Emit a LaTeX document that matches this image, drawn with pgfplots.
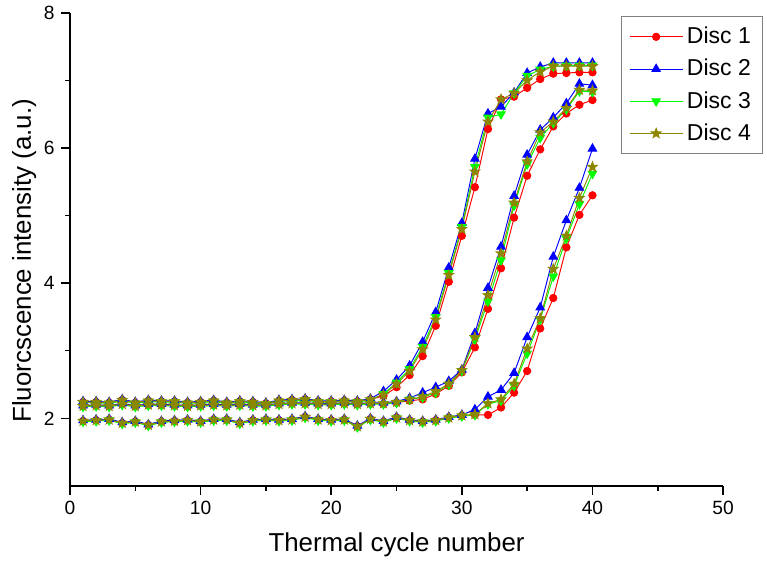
\documentclass[border=0pt]{standalone}
\usepackage{fontspec}
\setmainfont{Liberation Sans}
\usepackage{pgfplots}
\pgfplotsset{compat=1.18}
\usepackage{pgfplotstable}
\usetikzlibrary{plotmarks}

% filled five-point star
\pgfdeclareplotmark{fstar}{%
  \pgfpathmoveto{\pgfpointpolar{90}{\pgfplotmarksize}}%
  \pgfpathlineto{\pgfpointpolar{126}{0.42\pgfplotmarksize}}%
  \pgfpathlineto{\pgfpointpolar{162}{\pgfplotmarksize}}%
  \pgfpathlineto{\pgfpointpolar{198}{0.42\pgfplotmarksize}}%
  \pgfpathlineto{\pgfpointpolar{234}{\pgfplotmarksize}}%
  \pgfpathlineto{\pgfpointpolar{270}{0.42\pgfplotmarksize}}%
  \pgfpathlineto{\pgfpointpolar{306}{\pgfplotmarksize}}%
  \pgfpathlineto{\pgfpointpolar{342}{0.42\pgfplotmarksize}}%
  \pgfpathlineto{\pgfpointpolar{18}{\pgfplotmarksize}}%
  \pgfpathlineto{\pgfpointpolar{54}{0.42\pgfplotmarksize}}%
  \pgfpathclose
  \pgfusepathqfillstroke
}

% columns: cycle, then early / middle / late curve for each disc
\pgfplotstableread{
c  ae   am   al   be   bm   bl   ce   cm   cl   de   dm   dl
1  2.24 2.18 1.96 2.25 2.19 1.97 2.23 2.17 1.95 2.24 2.18 1.96
2  2.24 2.19 1.97 2.25 2.20 1.98 2.23 2.18 1.96 2.24 2.19 1.97
3  2.23 2.18 1.98 2.24 2.19 1.99 2.22 2.17 1.97 2.23 2.18 1.98
4  2.27 2.21 1.93 2.28 2.22 1.94 2.26 2.20 1.92 2.27 2.21 1.93
5  2.23 2.18 1.95 2.24 2.19 1.96 2.22 2.17 1.94 2.23 2.18 1.95
6  2.26 2.20 1.90 2.27 2.21 1.91 2.25 2.19 1.89 2.26 2.20 1.90
7  2.25 2.20 1.95 2.26 2.21 1.96 2.24 2.19 1.94 2.25 2.20 1.95
8  2.25 2.19 1.96 2.26 2.20 1.97 2.24 2.18 1.95 2.25 2.19 1.96
9  2.23 2.18 1.97 2.24 2.19 1.98 2.22 2.17 1.96 2.23 2.18 1.97
10 2.24 2.19 1.95 2.25 2.20 1.96 2.23 2.18 1.94 2.24 2.19 1.95
11 2.26 2.20 1.98 2.27 2.21 1.99 2.25 2.19 1.97 2.26 2.20 1.98
12 2.23 2.19 1.98 2.24 2.20 1.99 2.22 2.18 1.97 2.23 2.19 1.98
13 2.25 2.20 1.93 2.26 2.21 1.94 2.24 2.19 1.92 2.25 2.20 1.93
14 2.24 2.19 1.97 2.25 2.20 1.98 2.23 2.18 1.96 2.24 2.19 1.97
15 2.22 2.19 1.98 2.23 2.20 1.99 2.21 2.18 1.97 2.22 2.19 1.98
16 2.26 2.21 1.97 2.27 2.22 1.98 2.25 2.20 1.96 2.26 2.21 1.97
17 2.27 2.22 1.98 2.28 2.23 1.99 2.26 2.21 1.97 2.27 2.22 1.98
18 2.28 2.22 2.02 2.29 2.23 2.03 2.27 2.21 2.01 2.28 2.22 2.02
19 2.25 2.21 1.98 2.26 2.22 1.99 2.24 2.20 1.97 2.25 2.21 1.98
20 2.25 2.21 1.97 2.26 2.22 1.98 2.24 2.20 1.96 2.25 2.21 1.97
21 2.26 2.22 1.98 2.27 2.23 1.99 2.25 2.21 1.97 2.26 2.22 1.98
22 2.25 2.21 1.88 2.26 2.22 1.89 2.24 2.20 1.87 2.25 2.21 1.88
23 2.28 2.22 1.99 2.29 2.23 2.00 2.27 2.21 1.98 2.28 2.22 1.99
24 2.33 2.21 1.95 2.40 2.23 1.96 2.36 2.21 1.94 2.35 2.22 1.95
25 2.46 2.23 2.01 2.57 2.25 2.02 2.53 2.23 2.00 2.51 2.24 2.01
26 2.64 2.26 1.97 2.78 2.30 1.98 2.73 2.28 1.96 2.70 2.28 1.97
27 2.92 2.28 1.95 3.13 2.38 1.96 3.06 2.31 1.94 3.02 2.32 1.95
28 3.37 2.36 1.97 3.57 2.46 1.98 3.50 2.38 1.96 3.46 2.40 1.97
29 4.02 2.48 2.01 4.23 2.55 2.02 4.15 2.50 2.00 4.12 2.51 2.01
30 4.70 2.68 2.04 4.89 2.72 2.05 4.83 2.70 2.03 4.80 2.71 2.04
31 5.42 3.05 2.05 5.84 3.26 2.13 5.72 3.17 2.05 5.65 3.20 2.06
32 6.28 3.62 2.05 6.51 3.93 2.32 6.45 3.73 2.21 6.39 3.82 2.22
33 6.72 4.22 2.16 6.61 4.54 2.42 6.50 4.34 2.26 6.72 4.44 2.28
34 6.76 4.97 2.38 6.82 5.29 2.67 6.81 5.15 2.48 6.81 5.19 2.51
35 6.89 5.59 2.70 7.11 5.90 3.20 7.07 5.76 2.96 7.00 5.80 3.03
36 7.02 5.98 3.33 7.20 6.27 3.64 7.16 6.15 3.46 7.13 6.23 3.48
37 7.10 6.32 3.78 7.26 6.45 4.39 7.21 6.37 4.10 7.21 6.39 4.21
38 7.11 6.51 4.53 7.26 6.66 4.93 7.22 6.57 4.66 7.21 6.59 4.70
39 7.12 6.64 5.01 7.26 6.95 5.41 7.22 6.84 5.17 7.21 6.86 5.26
40 7.12 6.71 5.30 7.26 6.93 5.99 7.22 6.83 5.62 7.21 6.85 5.72
}\qpcr

\begin{document}
\begin{tikzpicture}
\useasboundingbox (0,0) rectangle (400pt,296.2pt);
\begin{axis}[
    at={(36.5pt,42.8pt)}, anchor=south west,
    scale only axis, width=340.6pt, height=246.7pt,
    xmin=0, xmax=50, ymin=1, ymax=8,
    axis x line*=bottom, axis y line*=left,
    xtick={0,10,...,50}, ytick={2,4,6,8},
    minor xtick={5,15,...,45}, minor ytick={3,5,7},
    tick align=outside,
    major tick length=4.5pt, minor tick length=2.5pt,
    axis line style={line width=0.8pt},
    every tick/.style={black, line width=0.8pt},
    /pgf/number format/assume math mode=true,
    tick label style={font=\fontsize{10}{12}\selectfont},
    label style={font=\fontsize{13.5}{16}\selectfont},
    xlabel={Thermal cycle number},
    ylabel={Fluorcscence intensity (a.u.)},
    xlabel style={anchor=center, at={(axis description cs:0.5,-0.125)}},
    ylabel style={anchor=center, at={(axis description cs:-0.07,0.476)}},
    legend cell align=left,
    legend style={at={(1.061,0.9935)}, anchor=north east,
        draw=gray, line width=0.6pt,
        font=\fontsize{12}{14}\selectfont,
        row sep=2.6pt, inner xsep=4pt, inner ysep=3.5pt},
    legend image code/.code={\draw[mark repeat=2, mark phase=2]
        plot coordinates {(0pt,0pt) (13.8pt,0pt) (27.6pt,0pt)};},
    every axis plot/.append style={line width=0.5pt},
    d1/.style={red, mark=*, mark size=1.9pt, mark options={fill=red, draw=red}},
    d2/.style={blue, mark=triangle*, mark size=2.5pt, mark options={fill=blue, draw=blue}},
    d3/.style={green, mark=triangle*, mark size=2.5pt, mark options={fill=green, draw=green, rotate=180}},
    d4/.style={olive, mark=fstar, mark size=2.6pt, mark options={fill=olive, draw=olive}},
]
\addplot[d1] table[x=c, y=ae] {\qpcr};
\addlegendentry{Disc 1}
\addplot[d1, forget plot] table[x=c, y=am] {\qpcr};
\addplot[d1, forget plot] table[x=c, y=al] {\qpcr};

\addplot[d2] table[x=c, y=be] {\qpcr};
\addlegendentry{Disc 2}
\addplot[d2, forget plot] table[x=c, y=bm] {\qpcr};
\addplot[d2, forget plot] table[x=c, y=bl] {\qpcr};

\addplot[d3] table[x=c, y=ce] {\qpcr};
\addlegendentry{Disc 3}
\addplot[d3, forget plot] table[x=c, y=cm] {\qpcr};
\addplot[d3, forget plot] table[x=c, y=cl] {\qpcr};

\addplot[d4] table[x=c, y=de] {\qpcr};
\addlegendentry{Disc 4}
\addplot[d4, forget plot] table[x=c, y=dm] {\qpcr};
\addplot[d4, forget plot] table[x=c, y=dl] {\qpcr};
\end{axis}
\end{tikzpicture}
\end{document}
